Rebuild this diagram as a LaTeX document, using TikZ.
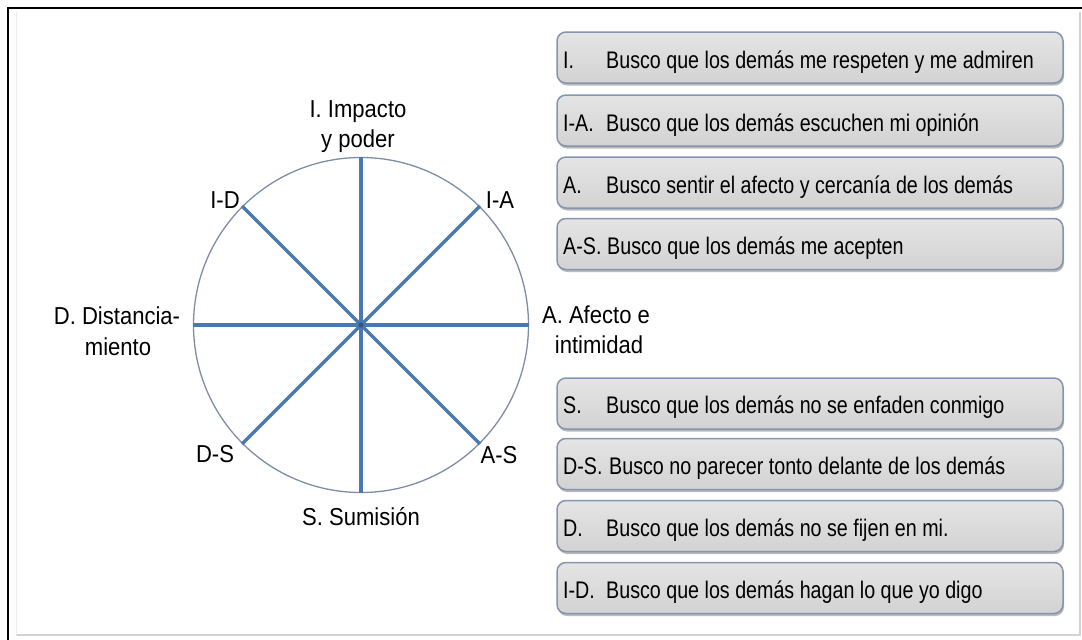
\documentclass[tikz,border=0pt]{standalone}
\usepackage{fontspec}
\setmainfont[FakeStretch=0.82]{Liberation Sans}
\newfontfamily\lblfont[FakeStretch=0.9]{Liberation Sans}
\usetikzlibrary{shadows}
\definecolor{spoke}{HTML}{4A78B0}
\definecolor{rim}{HTML}{7D8DA8}
\definecolor{boxfill}{HTML}{D9D9D9}
\definecolor{boxline}{HTML}{8595AD}
\begin{document}
\begin{tikzpicture}[x=1pt,y=-1pt,
  box/.style={draw=boxline, line width=1.5pt, rounded corners=9pt,
    top color=boxfill!70!white, bottom color=boxfill!97!black,
    minimum width=506pt, minimum height=51pt, inner sep=0pt,
    drop shadow={shadow xshift=1pt, shadow yshift=-2.5pt, opacity=0.45, fill=black!60}},
  txt/.style={anchor=base west, inner sep=0pt, font=\fontsize{24}{30}\selectfont, text=black},
  lbl/.style={anchor=base, inner sep=0pt, font=\lblfont\fontsize{24.5}{30}\selectfont, text=black},
  wheelst/.style={circle, draw=rim, line width=1.3pt, minimum size=335pt, inner sep=0pt},
  spk/.style={draw=spoke, line width=3.3pt}]
\useasboundingbox (0,0) rectangle (1082,640);
% frame
\draw[gray!35, line width=1.5pt] (16,635) -- (1080,635) -- (1080,12);
\draw[gray!15, line width=1pt] (16,12) -- (16,635);
\draw[black, line width=2.5pt] (8,640) -- (8,8) -- (1082,8);
% wheel
\node[wheelst] (wheel) at (361,325) {};
\draw[spk] (wheel.north) -- (wheel.south);
\draw[spk] (wheel.east) -- (wheel.west);
\draw[spk] (wheel.45) -- (wheel.225);
\draw[spk] (wheel.135) -- (wheel.315);
\fill[spoke!70!black] (wheel.center) circle[radius=2.5];
% wheel labels
\node[lbl] (lI1) at (358,117) {I. Impacto};
\node[lbl] (lI2) at (358,147) {y poder};
\node[lbl] (lID) at (225,208) {I-D};
\node[lbl] (lIA) at (500,208) {I-A};
\node[lbl] (lD1) at (117,324) {D. Distancia-};
\node[lbl] (lD2) at (118,355) {miento};
\node[lbl] (lA1) at (596,323) {A. Afecto e};
\node[lbl] (lA2) at (599,353) {intimidad};
\node[lbl] (lDS) at (215,462) {D-S};
\node[lbl] (lAS) at (499,463) {A-S};
\node[lbl] (lS) at (361,525) {S. Sumisión};
% boxes
\foreach \n/\y in {b1/57.5, b2/120.5, b3/182.5, b4/244, b5/403.5, b6/464, b7/526, b8/588}{
  \node[box] (\n) at (810,\y) {};
}
\node[txt] (p1) at (563,68) {I.};
\node[txt] (t1) at (606,68) {Busco que los demás me respeten y me admiren};
\node[txt] (p2) at (563,131) {I-A.};
\node[txt] (t2) at (606,131) {Busco que los demás escuchen mi opinión};
\node[txt] (p3) at (563,193) {A.};
\node[txt] (t3) at (606,193) {Busco sentir el afecto y cercanía de los demás};
\node[txt] (p4) at (563,254) {A-S.};
\node[txt] (t4) at (607,254) {Busco que los demás me acepten};
\node[txt] (p5) at (563,413.5) {S.};
\node[txt] (t5) at (606,413.5) {Busco que los demás no se enfaden conmigo};
\node[txt] (p6) at (563,474.5) {D-S.};
\node[txt] (t6) at (609,474.5) {Busco no parecer tonto delante de los demás};
\node[txt] (p7) at (563,536.5) {D.};
\node[txt] (t7) at (606,536.5) {Busco que los demás no se fijen en mi.};
\node[txt] (p8) at (563,598) {I-D.};
\node[txt] (t8) at (606,598) {Busco que los demás hagan lo que yo digo};
\end{tikzpicture}
\end{document}
